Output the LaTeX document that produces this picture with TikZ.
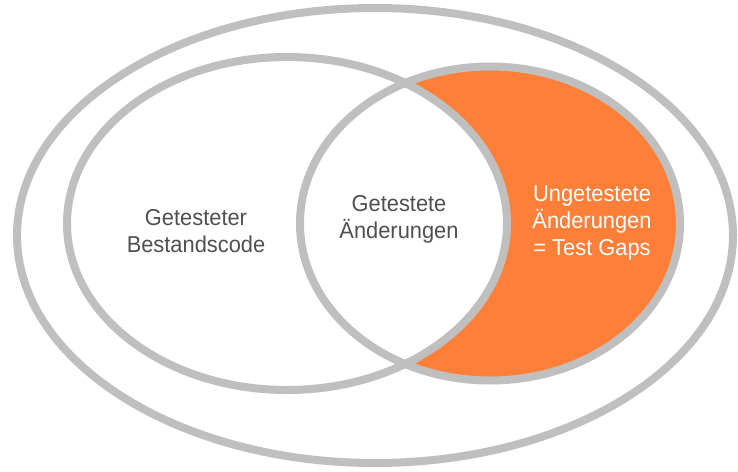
\documentclass[tikz,border=0pt]{standalone}
\usepackage{fontspec}
\setmainfont[FakeStretch=0.95]{Liberation Sans}
\usepackage{tikz}

\definecolor{ringgray}{HTML}{BFBFBF}
\definecolor{gaporange}{HTML}{FE7F37}
\definecolor{textgray}{HTML}{505050}

\tikzset{
  ring/.style={draw=ringgray,line width=8pt},
  setlabel/.style={align=center,text=textgray,font=\fontsize{23}{27}\selectfont,inner sep=0pt},
  gaplabel/.style={setlabel,text=white}
}

\begin{document}
\begin{tikzpicture}[x=1pt,y=-1pt]
    \useasboundingbox (0,0) rectangle (738,471);
    \coordinate (all) at (375,235.5);
    \coordinate (old) at (287,223.5);
    \coordinate (new) at (490,223.5);
    % test gaps: changes outside the tested code
    \fill[gaporange] (new) ellipse [x radius=190,y radius=157];
    \fill[white] (old) ellipse [x radius=220,y radius=166.5];
    % rings
    \draw[ring] (all) ellipse [x radius=358,y radius=227.5];
    \draw[ring] (old) ellipse [x radius=220,y radius=166.5];
    \draw[ring] (new) ellipse [x radius=190,y radius=157];
    % labels
    \node[setlabel] (oldlabel) at (196,231) {Getesteter\\Bestandscode};
    \node[setlabel] (testedlabel) at (399,219) {Getestete\\Änderungen};
    \node[gaplabel] (gaplabel) at (592,223) {Ungetestete\\Änderungen\\= Test Gaps};
  \end{tikzpicture}
\end{document}
